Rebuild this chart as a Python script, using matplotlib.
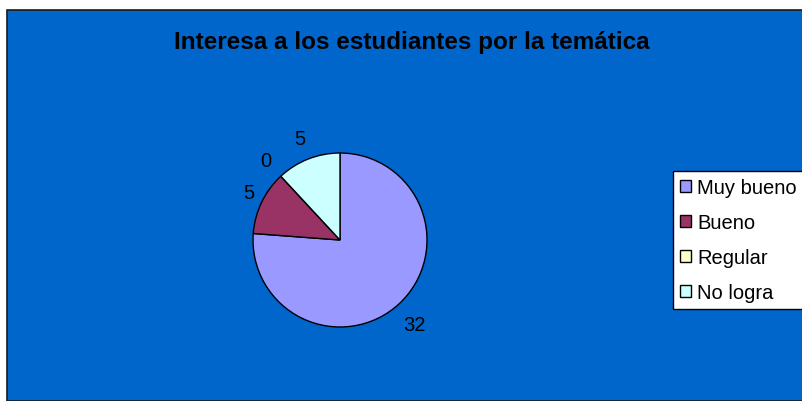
import matplotlib.pyplot as plt
from matplotlib.patches import Rectangle, Patch

plt.rcParams['font.family'] = ['Liberation Sans', 'DejaVu Sans']

# data
categorias = ['Muy bueno', 'Bueno', 'Regular', 'No logra']
valores = [32, 5, 0, 5]
colores = ['#9999FF', '#993366', '#FFFFCC', '#CCFFFF']
titulo = 'Interesa a los estudiantes por la temática'

W, H = 803, 402
fig = plt.figure(figsize=(W / 100, H / 100), dpi=100)
fig.patch.set_facecolor('white')

# blue chart area with dark border on left/top
fig.patches.append(Rectangle((7 / W, 0), 1 - 7 / W + 0.01, 1 - 11 / H, transform=fig.transFigure,
                             facecolor='#0066CC', edgecolor='#1a1a1a', linewidth=1.2, zorder=-5))

fig.text(412 / W, 1 - 43 / H, titulo, ha='center', va='center',
         fontsize=17.5, fontweight='bold', color='black')

cx, cy, r = 340, 241, 87
ax = fig.add_axes([(cx - r) / W, (H - cy - r) / H, 2 * r / W, 2 * r / H])
ax.set_zorder(2)
wedges, texts = ax.pie(valores, colors=colores, startangle=90, counterclock=False,
                       labels=[str(v) for v in valores], labeldistance=1.25,
                       wedgeprops=dict(edgecolor='black', linewidth=1),
                       textprops=dict(fontsize=14.5, color='black'))
for t in texts:
    t.set_ha('center')
    t.set_va('center')
# small nudges to follow the original label placement
x, y = texts[0].get_position()
texts[0].set_position((x, y - 0.06))
x, y = texts[1].get_position()
texts[1].set_position((x + 0.08, y))
ax.set_xlim(-1, 1)
ax.set_ylim(-1, 1)
ax.set_aspect('equal')
ax.axis('off')

handles = [Patch(facecolor=c, edgecolor='black', linewidth=1) for c in colores]
leg = fig.legend(handles, categorias, loc='upper left', bbox_to_anchor=(673 / W, 1 - 172 / H),
                 fontsize=14.5, frameon=True, fancybox=False, framealpha=1,
                 labelspacing=0.8, handlelength=0.55, handleheight=0.55,
                 handletextpad=0.3, borderpad=0.35, borderaxespad=0)
leg.get_frame().set_edgecolor('black')
leg.get_frame().set_linewidth(1)
leg.set_zorder(3)

fig.savefig('out.png', dpi=100)
